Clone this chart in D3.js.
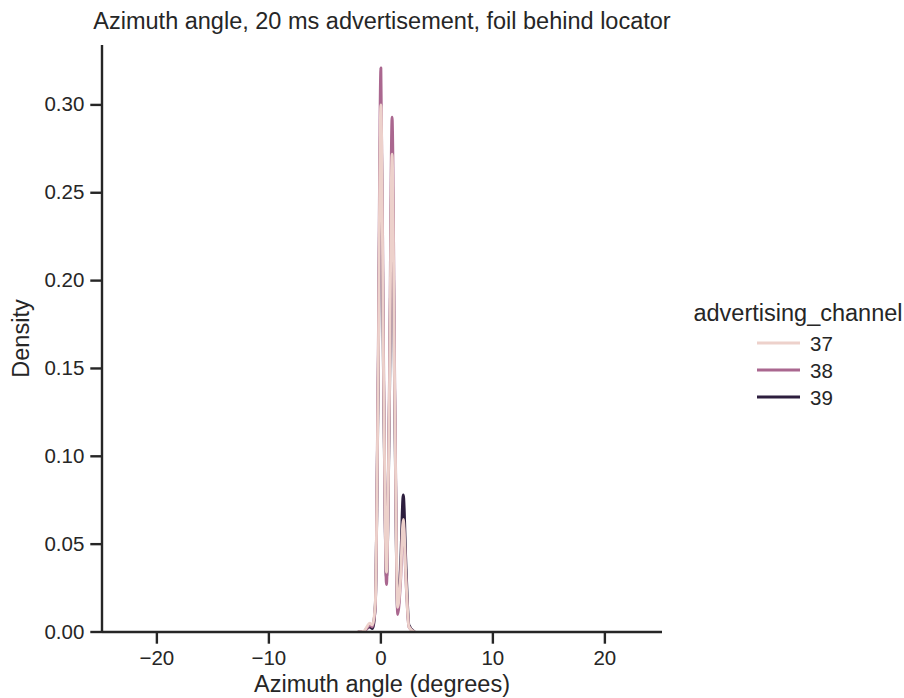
<!DOCTYPE html>
<html>
<head>
<meta charset="utf-8">
<script src="https://cdn.jsdelivr.net/npm/d3@7"></script>
<style>
  html, body { margin: 0; padding: 0; background: #ffffff; }
  svg { display: block; }
  text { font-family: "Liberation Sans", Arial, sans-serif; fill: #262626; }
</style>
</head>
<body>
<svg id="chart" width="904" height="698"></svg>
<script>
// Kernel density estimates of azimuth angle per advertising channel
const channels = [37, 38, 39];
const channelColors = ["#edd1cb", "#aa678f", "#2d1e3e"];

// Angle positions (degrees) where the density curves are sampled
const angleGrid = [-2, -1.5, -1.25, -1, -0.75, -0.5, -0.25, 0, 0.25, 0.5, 0.75,
                   1, 1.25, 1.5, 1.75, 2, 2.25, 2.5, 3];

// Density values for each channel at the sampled angles
const density37 = [0, 0.0005, 0.003, 0.005, 0.004, 0.016, 0.140, 0.300, 0.142, 0.034, 0.128,
                   0.272, 0.126, 0.014, 0.030, 0.064, 0.029, 0.003, 0];
const density38 = [0, 0.0004, 0.002, 0.004, 0.003, 0.014, 0.147, 0.321, 0.148, 0.027, 0.134,
                   0.293, 0.133, 0.010, 0.028, 0.062, 0.028, 0.003, 0];
const density39 = [0, 0.0003, 0.002, 0.003, 0.002, 0.015, 0.136, 0.290, 0.137, 0.031, 0.123,
                   0.262, 0.122, 0.012, 0.036, 0.078, 0.036, 0.004, 0];

const xTickValues = [-20, -10, 0, 10, 20];
const xTickLabels = ["\u221220", "\u221210", "0", "10", "20"];
const yTickValues = [0, 0.05, 0.10, 0.15, 0.20, 0.25, 0.30];
const yTickLabels = ["0.00", "0.05", "0.10", "0.15", "0.20", "0.25", "0.30"];

const titleText = "Azimuth angle, 20 ms advertisement, foil behind locator";
const xLabelText = "Azimuth angle (degrees)";
const yLabelText = "Density";
const legendTitle = "advertising_channel";

const seriesValues = [density37, density38, density39];

// Layout
const plot = { left: 102, right: 662, top: 45, bottom: 632 };
const tickFont = 20.5;
const labelFont = 23.5;
const ink = "#262626";
const spineWidth = 2.4;
const tickLen = 11.7;
const tickPad = 6;

const svg = d3.select("#chart");

const x = d3.scaleLinear().domain([-24.9, 25.1]).range([plot.left, plot.right]);
const y = d3.scaleLinear().domain([0, 0.3341]).range([plot.bottom, plot.top]);

svg.append("defs").append("clipPath").attr("id", "plot-clip")
  .append("rect")
  .attr("x", plot.left).attr("y", plot.top - 5)
  .attr("width", plot.right - plot.left).attr("height", plot.bottom - plot.top + 5);

// Density curves: the first channel is drawn last so it sits on top
const line = d3.line()
  .x(d => x(d[0]))
  .y(d => y(d[1]))
  .curve(d3.curveMonotoneX);

const curves = svg.append("g").attr("clip-path", "url(#plot-clip)");
const drawOrder = channels.map((c, i) => i).reverse();
drawOrder.forEach(i => {
  const pts = angleGrid.map((a, j) => [a, seriesValues[i][j]]);
  curves.append("path")
    .datum(pts)
    .attr("fill", "none")
    .attr("stroke", channelColors[i])
    .attr("stroke-width", 2.9)
    .attr("stroke-linejoin", "round")
    .attr("stroke-linecap", "round")
    .attr("d", line);
});

// Axes
const xAxis = d3.axisBottom(x)
  .tickValues(xTickValues)
  .tickFormat((d, i) => xTickLabels[i])
  .tickSize(tickLen).tickSizeOuter(0).tickPadding(tickPad + 1).offset(0);
const yAxis = d3.axisLeft(y)
  .tickValues(yTickValues)
  .tickFormat((d, i) => yTickLabels[i])
  .tickSize(tickLen).tickSizeOuter(0).tickPadding(tickPad).offset(0);

function styleAxis(g) {
  g.select(".domain").attr("stroke", ink).attr("stroke-width", spineWidth);
  g.selectAll(".tick line").attr("stroke", ink).attr("stroke-width", spineWidth);
  g.selectAll(".tick text")
    .attr("fill", ink)
    .style("font-size", tickFont + "px")
    .style("font-family", "'Liberation Sans', Arial, sans-serif");
}

svg.append("g")
  .attr("transform", `translate(0,${plot.bottom})`)
  .call(xAxis)
  .call(styleAxis);

svg.append("g")
  .attr("transform", `translate(${plot.left},0)`)
  .call(yAxis)
  .call(styleAxis);

// Titles
const cx = (plot.left + plot.right) / 2;
svg.append("text")
  .attr("x", cx).attr("y", 29)
  .attr("text-anchor", "middle")
  .style("font-size", labelFont + "px")
  .text(titleText);

svg.append("text")
  .attr("x", cx).attr("y", 692)
  .attr("text-anchor", "middle")
  .style("font-size", labelFont + "px")
  .text(xLabelText);

svg.append("text")
  .attr("transform", `translate(29,${(plot.top + plot.bottom) / 2}) rotate(-90)`)
  .attr("text-anchor", "middle")
  .style("font-size", labelFont + "px")
  .text(yLabelText);

// Legend
const legend = svg.append("g").attr("transform", "translate(798,0)");
legend.append("text")
  .attr("x", 0).attr("y", 321)
  .attr("text-anchor", "middle")
  .style("font-size", labelFont + "px")
  .text(legendTitle);

const rowY = d3.scalePoint().domain(channels).range([343, 397]);
channels.forEach((c, i) => {
  legend.append("line")
    .attr("x1", -41).attr("x2", 2)
    .attr("y1", rowY(c)).attr("y2", rowY(c))
    .attr("stroke", channelColors[i])
    .attr("stroke-width", 2.9);
  legend.append("text")
    .attr("x", 12).attr("y", rowY(c) + 7.5)
    .style("font-size", tickFont + "px")
    .text(String(c));
});
</script>
</body>
</html>
